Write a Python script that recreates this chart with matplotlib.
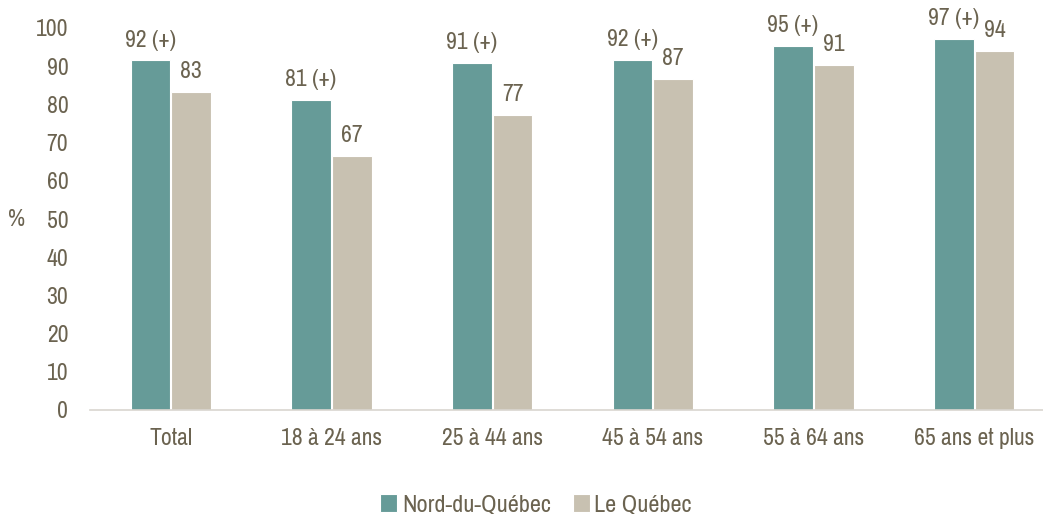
import matplotlib
matplotlib.use("Agg")
import matplotlib.pyplot as plt
from matplotlib import font_manager
import numpy as np

categories = ["Total", "18 à 24 ans", "25 à 44 ans", "45 à 54 ans", "55 à 64 ans", "65 ans et plus"]
series_names = ["Nord-du-Québec", "Le Québec"]
nord_values = [91.5, 81.2, 90.9, 91.6, 95.3, 97.1]
quebec_values = [83.2, 66.6, 77.2, 86.7, 90.4, 94.0]
nord_labels = ["92 (+)", "81 (+)", "91 (+)", "92 (+)", "95 (+)", "97 (+)"]
quebec_labels = ["83", "67", "77", "87", "91", "94"]
yticks = [0, 10, 20, 30, 40, 50, 60, 70, 80, 90, 100]

names = {f.name for f in font_manager.fontManager.ttflist}
fam = "Liberation Sans"
for cand in ["Liberation Sans Narrow", "Arimo Narrow", "Archivo Narrow", "PT Sans Narrow",
             "Roboto Condensed", "Pragati Narrow", "Open Sans Condensed"]:
    if cand in names:
        fam = cand
        break
plt.rcParams['font.family'] = [fam, 'DejaVu Sans']

txt = "#6b6350"
c_nord = "#669b98"
c_qc = "#c8c1b1"
fs = 17

W, H = 1043, 514
fig = plt.figure(figsize=(W/100, H/100), dpi=100)
left = 90.5 / W
bottom = (H - 410) / H
ax = fig.add_axes([left, bottom, 964 / W, 382 / H])

x = np.arange(len(categories))
bw = 0.248
b1 = ax.bar(x - bw/2 - 0.003, nord_values, bw, color=c_nord, edgecolor="white", linewidth=0.8, label=series_names[0])
b2 = ax.bar(x + bw/2 + 0.003, quebec_values, bw, color=c_qc, edgecolor="white", linewidth=0.8, label=series_names[1])

for bars, labs in ((b1, nord_labels), (b2, quebec_labels)):
    for rect, lab in zip(bars, labs):
        ax.annotate(lab, (rect.get_x() + rect.get_width()/2, rect.get_height()),
                    xytext=(0, 10), textcoords="offset points", ha="center", va="baseline",
                    fontsize=fs, color=txt, clip_on=False)

ax.set_xlim(-0.5, len(categories) - 0.5)
ax.set_ylim(0, 100)
ax.set_yticks(yticks)
ax.set_yticklabels([str(v) for v in yticks])
ax.set_xticks(x)
ax.set_xticklabels(categories)
ax.tick_params(axis="y", length=0, pad=16, labelsize=fs, labelcolor=txt)
ax.tick_params(axis="x", length=0, pad=13, labelsize=fs, labelcolor=txt)
for s in ["top", "right", "left"]:
    ax.spines[s].set_visible(False)
ax.spines["bottom"].set_color("#d9d6cf")
ax.spines["bottom"].set_linewidth(1.2)

fig.text(17 / W, 1 - 220 / H, "%", ha="center", va="center", fontsize=fs, color=txt)

fig.legend(handles=[b1, b2], labels=series_names, loc="center", bbox_to_anchor=(536 / W, 1 - 505 / H),
           ncol=2, frameon=False, fontsize=17.5, handlelength=0.7, handleheight=0.7,
           handletextpad=0.2, columnspacing=0.9, labelcolor=txt, borderaxespad=0, borderpad=0)

fig.savefig("out.png", dpi=100)
